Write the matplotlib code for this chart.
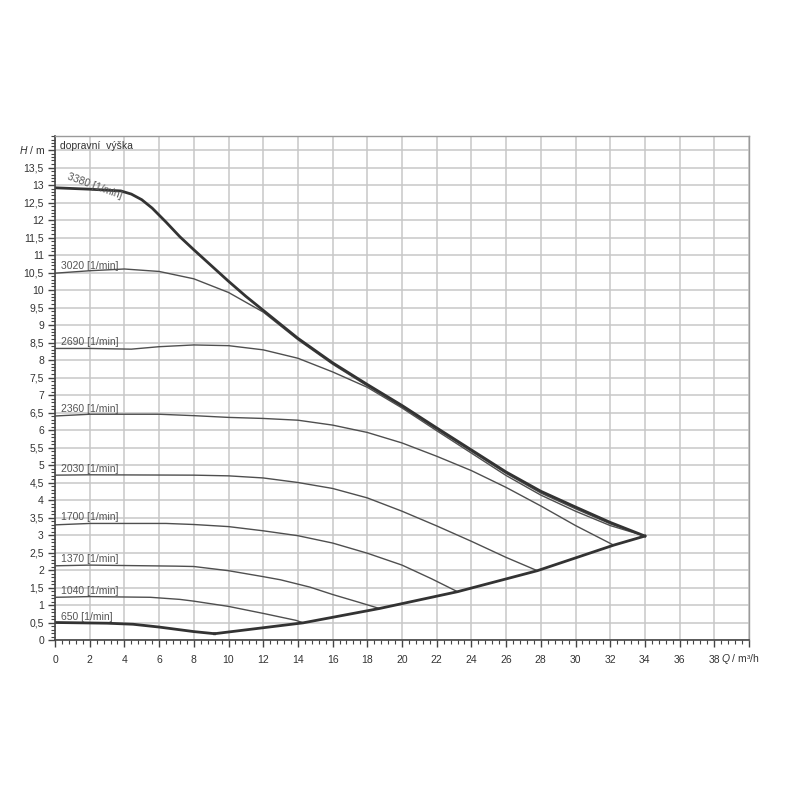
import matplotlib
matplotlib.use("Agg")
import matplotlib.pyplot as plt
from matplotlib.ticker import MultipleLocator, FixedLocator

plt.rcParams['font.family'] = ['Liberation Sans', 'DejaVu Sans']
plt.rcParams['mathtext.fontset'] = 'custom'
plt.rcParams['mathtext.it'] = 'Liberation Sans:italic'
plt.rcParams['mathtext.rm'] = 'Liberation Sans'

# ---- data (Q in m3/h, H in m) ----
max_q = [0, 2, 3.8, 4.4, 5.0, 5.6, 6.4, 7.2, 8, 9, 10, 11, 12, 14, 16, 18, 20, 22, 24, 26,
         28, 30, 32, 34]
max_h = [12.92, 12.88, 12.83, 12.74, 12.58, 12.34, 11.94, 11.52, 11.15, 10.7, 10.25, 9.82,
         9.42, 8.62, 7.92, 7.3, 6.7, 6.06, 5.43, 4.8, 4.25, 3.8, 3.36, 2.97]

q3020 = [0, 2, 4, 6, 8, 10, 12, 14, 16, 18, 20, 22, 24, 26, 28, 30, 32, 34]
h3020 = [10.48, 10.55, 10.6, 10.53, 10.32, 9.93, 9.37, 8.58, 7.88, 7.26, 6.66, 6.02, 5.39,
         4.76, 4.2, 3.75, 3.32, 2.97]

q2690 = [0, 2, 4.4, 6, 8, 10, 12, 14, 16, 18, 20, 22, 24, 26, 28, 30, 32, 34]
h2690 = [8.33, 8.33, 8.31, 8.38, 8.43, 8.41, 8.29, 8.05, 7.66, 7.22, 6.63, 5.98, 5.34,
         4.7, 4.14, 3.68, 3.27, 2.97]

q2360 = [0, 2, 6, 8, 10, 12, 14, 16, 18, 20, 22, 24, 26, 28, 30, 32.2]
h2360 = [6.4, 6.45, 6.45, 6.41, 6.36, 6.33, 6.28, 6.14, 5.93, 5.63, 5.25, 4.84, 4.36,
         3.83, 3.27, 2.71]

q2030 = [0, 2, 8, 10, 12, 14, 16, 18, 20, 22, 24, 26, 27.8]
h2030 = [4.71, 4.72, 4.71, 4.69, 4.63, 4.5, 4.33, 4.06, 3.68, 3.26, 2.82, 2.36, 1.98]

q1700 = [0, 2, 6.4, 8, 10, 12, 14, 16, 18, 20, 21.7, 23.2]
h1700 = [3.29, 3.33, 3.33, 3.3, 3.24, 3.12, 2.98, 2.77, 2.48, 2.14, 1.75, 1.38]

q1370 = [0, 2, 7, 8, 10, 12, 13, 14.7, 16, 17.5, 18.7]
h1370 = [2.12, 2.14, 2.11, 2.1, 1.98, 1.81, 1.72, 1.51, 1.3, 1.08, 0.9]

q1040 = [0, 2, 5.5, 7.2, 8, 10, 12, 13.9, 14.3]
h1040 = [1.22, 1.24, 1.22, 1.16, 1.11, 0.96, 0.76, 0.56, 0.49]

q650 = [0, 3, 4.5, 6, 8, 9.2]
h650 = [0.5, 0.48, 0.45, 0.37, 0.24, 0.18]

bound_q = [9.2, 14.3, 18.7, 23.2, 27.8, 32.2, 34]
bound_h = [0.18, 0.49, 0.9, 1.38, 1.98, 2.71, 2.97]

speed_labels = ["3020 [1/min]", "2690 [1/min]", "2360 [1/min]", "2030 [1/min]",
                "1700 [1/min]", "1370 [1/min]", "1040 [1/min]", "650 [1/min]"]
speed_label_h = [10.69, 8.51, 6.6, 4.9, 3.5, 2.31, 1.41, 0.67]
max_label = "3380 [1/min]"

x_ticks = list(range(0, 40, 2))
y_ticks = [i * 0.5 for i in range(0, 28)]

# ---- figure ----
fig = plt.figure(figsize=(8, 8), dpi=100)
ax = fig.add_axes([0.06875, 0.2, 0.8675, 0.63])
ax.set_xlim(0, 40)
ax.set_ylim(0, 14.4)

grid_c = '#c8c8c8'
ax.xaxis.set_major_locator(FixedLocator(x_ticks + [40]))
ax.xaxis.set_minor_locator(MultipleLocator(0.4))
ax.yaxis.set_major_locator(FixedLocator(y_ticks + [14]))
ax.yaxis.set_minor_locator(MultipleLocator(0.1))
ax.grid(True, which='major', color=grid_c, linewidth=1.1)
ax.set_axisbelow(True)

xl = [str(v) for v in x_ticks] + ['']
yl = [('%g' % v).replace('.', ',') for v in y_ticks] + ['']
ax.set_xticklabels(xl)
ax.set_yticklabels(yl)
ax.tick_params(axis='both', which='major', direction='out', length=5, width=1,
               color='#444444', labelsize=7.5, labelcolor='#333333', pad=3)
ax.tick_params(axis='both', which='minor', direction='out', length=3, width=0.8,
               color='#444444')
ax.tick_params(axis='x', which='major', pad=6)

for s in ['left', 'bottom']:
    ax.spines[s].set_color('#444444')
    ax.spines[s].set_linewidth(1.2)
for s in ['top', 'right']:
    ax.spines[s].set_color('#9a9a9a')
    ax.spines[s].set_linewidth(1.0)

thin_c = '#4f4f4f'
for q, h in [(q3020, h3020), (q2690, h2690), (q2360, h2360), (q2030, h2030),
             (q1700, h1700), (q1370, h1370), (q1040, h1040)]:
    ax.plot(q, h, color=thin_c, linewidth=1.0, solid_joinstyle='round')

thick_c = '#333333'
ax.plot(max_q, max_h, color=thick_c, linewidth=2.0, solid_joinstyle='round')
ax.plot(q650, h650, color=thick_c, linewidth=2.0, solid_joinstyle='round')
ax.plot(bound_q, bound_h, color=thick_c, linewidth=2.0, solid_joinstyle='round')

lab_c = '#555555'
for t, yv in zip(speed_labels, speed_label_h):
    ax.text(0.35, yv, t, fontsize=7.5, color=lab_c, ha='left', va='center')
ax.text(2.3, 12.97, max_label, fontsize=7.5, color=lab_c, ha='center', va='center',
        rotation=-20)

ax.text(0.3, 14.12, "dopravní  výška", fontsize=7.5, color='#333333',
        ha='left', va='center')
ax.text(-0.55, 14.0, r"$H$ / m", fontsize=7.5, color='#333333', ha='right', va='center')
ax.text(39.5, -0.55, r"$Q$ / m³/h", fontsize=7.5, color='#333333', ha='center', va='center')

fig.savefig("out.png", dpi=100, facecolor='white')
